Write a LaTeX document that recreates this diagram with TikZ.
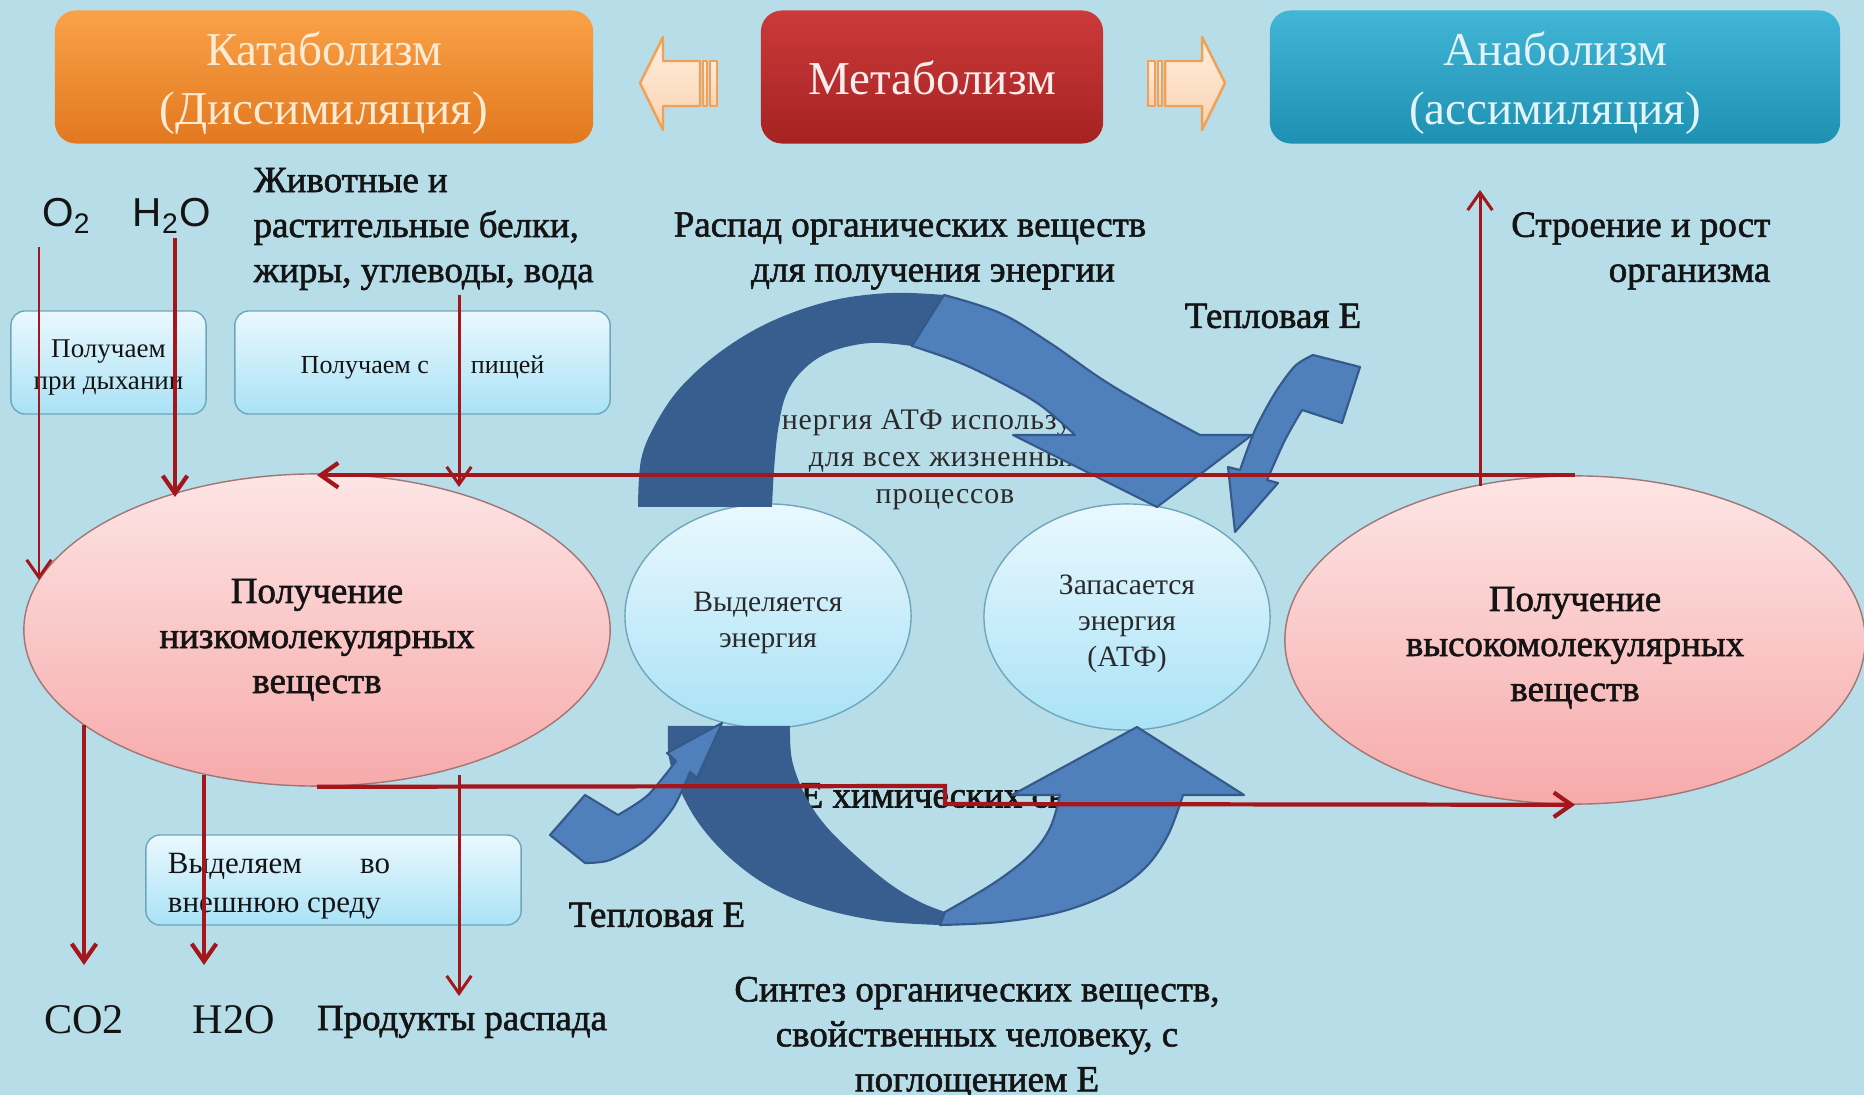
\documentclass[tikz,border=0pt]{standalone}
\usepackage{fontspec}
\setmainfont{Liberation Serif}
\newfontfamily\sansf{Liberation Sans}
\newfontfamily\heavyf[FakeBold=1.6]{Liberation Serif}
\newfontfamily\spacedf[LetterSpace=3]{Liberation Serif}
\usetikzlibrary{arrows.meta,shapes.geometric,shadings}
\definecolor{bgc}{HTML}{B7DDE8}
\definecolor{orT}{HTML}{FAA248}
\definecolor{orB}{HTML}{E2781F}
\definecolor{orTxt}{HTML}{FDEBD3}
\definecolor{rdT}{HTML}{CC3A3A}
\definecolor{rdB}{HTML}{A62222}
\definecolor{rdTxt}{HTML}{FCEDED}
\definecolor{blT}{HTML}{42B6D7}
\definecolor{blB}{HTML}{1E90B2}
\definecolor{blTxt}{HTML}{E3F4F9}
\definecolor{pch1}{HTML}{FFEEDD}
\definecolor{pch2}{HTML}{FBD3B2}
\definecolor{pchbd}{HTML}{F2A055}
\definecolor{pinkT}{HTML}{FDE5E5}
\definecolor{pinkB}{HTML}{F7AAAA}
\definecolor{pinkbd}{HTML}{A07676}
\definecolor{cyT}{HTML}{EAF8FE}
\definecolor{cyB}{HTML}{A9E2F6}
\definecolor{cybd}{HTML}{6FA6BA}
\definecolor{redc}{HTML}{A3161C}
\definecolor{arcdk}{HTML}{375E8E}
\definecolor{arclt}{HTML}{4F80BC}
\definecolor{arcbd}{HTML}{34598A}
\definecolor{txtc}{HTML}{141414}
\definecolor{graytxt}{HTML}{2A2A2A}
% lowered multi-line content that keeps its box size
\newcommand{\lowc}[2]{\raisebox{-#1}[\height][\depth]{\begin{tabular}{@{}c@{}}#2\end{tabular}}}
\newcommand{\lowl}[3]{\raisebox{-#1}[\height][\depth]{\begin{tabular}{@{}p{#2}@{}}#3\end{tabular}}}
\tikzset{
  ttl/.style={rounded corners=6pt, minimum height=1.33cm, inner sep=0pt,
    font=\fontsize{13.4}{16.8}\selectfont},
  bod/.style={inner sep=0pt, align=center, text=txtc, font=\heavyf\fontsize{10.5}{12.8}\selectfont},
  bigtxt/.style={inner sep=0pt, text=txtc, font=\fontsize{12}{14}\selectfont},
  sanstxt/.style={inner sep=0pt, text=txtc, font=\sansf\fontsize{11.5}{14}\selectfont},
  atptxt/.style={inner sep=0pt, align=center, text=graytxt, font=\spacedf\fontsize{8.5}{10.5}\selectfont},
  pinkell/.style={ellipse, inner sep=0pt, draw=pinkbd, line width=0.4pt, top color=pinkT,
    bottom color=pinkB, text=txtc, font=\heavyf\fontsize{10.5}{12.8}\selectfont},
  bluecirc/.style={ellipse, inner sep=0pt, draw=cybd, line width=0.4pt, top color=cyT,
    bottom color=cyB, text=graytxt, font=\fontsize{8.4}{10.2}\selectfont},
  infobox/.style={rounded corners=4pt, draw=cybd, line width=0.4pt, top color=cyT,
    bottom color=cyB, inner sep=0pt, text=txtc},
  rl/.style={draw=redc, line width=1.2pt, -{Straight Barb[length=5pt,width=7pt]}},
  rlt/.style={rl, line width=0.85pt},
  ltarc/.style={fill=arclt, draw=arcbd, line width=0.6pt, line join=round},
  blkarrow/.style={top color=pch1, bottom color=pch2, draw=pchbd, line width=0.7pt, line join=round},
}
\begin{document}
\begin{tikzpicture}[x=0.01cm,y=-0.01cm]
\useasboundingbox (0,0) rectangle (1864,1095);
\fill[bgc] (0,0) rectangle (1864,1095);

% title boxes
\node[ttl, top color=orT, bottom color=orB, text=orTxt, minimum width=5.38cm] (kat) at (324,77) {\lowc{0.06cm}{Катаболизм\\(Диссимиляция)}};
\node[ttl, top color=rdT, bottom color=rdB, text=rdTxt, minimum width=3.42cm] (met) at (932,77) {\lowc{0.06cm}{Метаболизм}};
\node[ttl, top color=blT, bottom color=blB, text=blTxt, minimum width=5.70cm] (ana) at (1555,77) {\lowc{0.06cm}{Анаболизм\\(ассимиляция)}};

% block arrows
\path[blkarrow] (640,83) -- (663,37) -- (663,61) -- (700,61) -- (700,106) -- (663,106) -- (663,130) -- cycle;
\path[blkarrow] (703,61) rectangle (707,106);
\path[blkarrow] (710,61) rectangle (717,106);
\path[blkarrow] (1225,83) -- (1202,37) -- (1202,61) -- (1165,61) -- (1165,106) -- (1202,106) -- (1202,130) -- cycle;
\path[blkarrow] (1158,61) rectangle (1162,106);
\path[blkarrow] (1148,61) rectangle (1155,106);

% texts lying under the big arrows
\node[atptxt] (atp) at (945,460) {Энергия АТФ используется\\для всех жизненных\\процессов};
\node[bod, anchor=west] (echem) at (800,795) {Е химических связей};

% boxes
\node[infobox, minimum width=1.95cm, minimum height=1.03cm, font=\fontsize{7.7}{9.1}\selectfont] (bBreath) at (108.5,362.5) {\lowc{0.05cm}{Получаем\\при дыхании}};
\node[infobox, minimum width=3.75cm, minimum height=1.03cm, font=\fontsize{7.4}{9}\selectfont] (bFood) at (422.5,362.5) {\lowc{0.05cm}{Получаем с\hspace{0.42cm}пищей}};
\node[infobox, minimum width=3.75cm, minimum height=0.90cm, font=\fontsize{8.8}{11.1}\selectfont] (bOut) at (333.5,880) {\lowl{0.05cm}{3.31cm}{\makebox[2.22cm][l]{Выделяем\hfill во}\\внешнюю среду}};

% ellipses and circles
\node[pinkell, minimum width=5.86cm, minimum height=3.12cm] (lowE) at (317,630) {\lowc{0.09cm}{Получение\\низкомолекулярных\\веществ}};
\node[pinkell, minimum width=5.80cm, minimum height=3.28cm] (highE) at (1575,640) {\lowc{0.07cm}{Получение\\высокомолекулярных\\веществ}};
\node[bluecirc, minimum width=2.86cm, minimum height=2.24cm] (cRel) at (768,616) {\lowc{0.06cm}{Выделяется\\энергия}};
\node[bluecirc, minimum width=2.86cm, minimum height=2.26cm] (cSto) at (1127,617) {\lowc{0.06cm}{Запасается\\энергия\\(АТФ)}};

% upper big arrow
\fill[arcdk] (638,507) -- plot[smooth,tension=0.6] coordinates {(638,507) (641,460) (655,425) (680,388) (720,352) (770,322) (830,301) (890,293) (944,295)}
  -- (912,346) -- plot[smooth,tension=0.6] coordinates {(912,346) (870,343) (830,352) (803,370) (786,395) (778,430) (774,470) (772,507)} -- cycle;
\path[ltarc] (944,295) -- plot[smooth,tension=0.6] coordinates {(944,295) (1000,313) (1050,343) (1100,378) (1145,405) (1200,435)}
  -- (1252,435) -- (1157,507) -- (1013,435) -- (1075,435)
  -- plot[smooth,tension=0.6] coordinates {(1075,435) (1040,405) (1000,382) (958,362) (912,346)} -- cycle;

% lower big arrow
\fill[arcdk] (668,726) -- (790,726) -- plot[smooth,tension=0.6] coordinates {(790,726) (792,760) (805,795) (825,825) (855,855) (890,884) (920,902) (945,912)}
  -- (940,925) -- plot[smooth,tension=0.6] coordinates {(940,925) (880,921) (820,908) (770,887) (730,858) (700,825) (680,790) (669,758) (668,726)} -- cycle;
\path[ltarc] (940,925) -- plot[smooth,tension=0.6] coordinates {(940,925) (1000,922) (1060,912) (1110,893) (1145,868) (1168,835) (1183,795)}
  -- (1244,795) -- (1137,727) -- (1012,795) -- (1060,795)
  -- plot[smooth,tension=0.6] coordinates {(1060,795) (1050,828) (1030,855) (994,883) (945,912)} -- cycle;

% small heat arrows
\path[ltarc] (1228,467) -- (1240,470) -- plot[smooth] coordinates {(1240,470) (1255,430) (1275,393) (1295,366) (1313,355)}
  -- (1360,367) -- (1342,423) -- (1302,410) -- plot[smooth] coordinates {(1302,410) (1285,440) (1267,480)}
  -- (1278,483) -- (1235,532) -- cycle;
\path[ltarc] (550,835) -- (585,795) -- (618,815) -- plot[smooth] coordinates {(618,815) (648,795) (676,761)}
  -- (667,753) -- (722,723) -- (697,778) -- (690,772)
  -- plot[smooth] coordinates {(690,772) (673,808) (645,840) (610,860) (585,863)} -- cycle;

% connector end points
\coordinate (o2a) at (39,247);   \coordinate (o2b) at (39,580);
\coordinate (h2a) at (175,238);  \coordinate (h2b) at (175,497);
\coordinate (fda) at (459,295);  \coordinate (fdb) at (459,487);
\coordinate (upa) at (1480,486); \coordinate (upb) at (1480,190);
\coordinate (co2a) at (84,725);  \coordinate (co2b) at (84,965);
\coordinate (h2da) at (204,775); \coordinate (h2db) at (204,965);
\coordinate (prda) at (459,775); \coordinate (prdb) at (459,996);
\coordinate (st1) at (945,786);  \coordinate (st2) at (945,804);

% red connectors
\draw[rlt] (o2a) -- (o2b);
\draw[rl] (h2a) -- (h2b);
\draw[rlt] (fda) -- (fdb);
\draw[rl] (highE.north) -- (lowE.north |- highE.north);
\draw[rlt] (upa) -- (upb);
\draw[rl] (co2a) -- (co2b);
\draw[rl] (h2da) -- (h2db);
\draw[rlt] (prda) -- (prdb);
\draw[rl] (lowE.south) -- (st1) -- (st2) -- (highE.south);

% free texts
\node[sanstxt] (o2) at (67,216) {O\textsubscript{2}};
\node[sanstxt] (h2oT) at (172,216) {H\textsubscript{2}O};
\node[bod, anchor=west, align=left] (food) at (253,229) {Животные и\\растительные белки,\\жиры, углеводы, вода};
\node[bod] (raspad) at (910,251) {Распад органических веществ\\\hspace*{0.46cm}для получения энергии};
\node[bod, anchor=east, align=right] (stroen) at (1771,251) {Строение и рост\\организма};
\node[bod] (tep1) at (1273,316) {Тепловая Е};
\node[bod] (tep2) at (657,915) {Тепловая Е};
\node[bigtxt] (co2) at (84,1020) {CO2};
\node[bigtxt] (h2oB) at (234,1020) {H2O};
\node[bod] (prod) at (462,1022) {Продукты распада};
\node[bod] (sintez) at (977,1038) {Синтез органических веществ,\\свойственных человеку, с\\поглощением Е};
\end{tikzpicture}
\end{document}
